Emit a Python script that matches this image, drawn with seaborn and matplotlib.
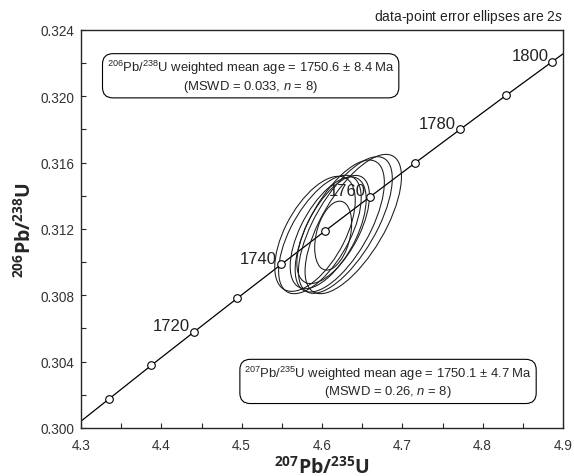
import numpy as np
import pandas as pd
import matplotlib
matplotlib.use("Agg")
import matplotlib.pyplot as plt
from matplotlib.patches import Ellipse
from matplotlib.ticker import MultipleLocator, FormatStrFormatter
import seaborn as sns

# ---- data ----
conc_age = [1690, 1700, 1710, 1720, 1730, 1740, 1750, 1760, 1770, 1780, 1790, 1800, 1810]
conc_x = [4.2825, 4.3348, 4.3876, 4.4409, 4.4947, 4.5491, 4.6040, 4.6595, 4.7155, 4.7721, 4.8292, 4.8869, 4.9452]
conc_y = [0.29974, 0.30175, 0.30378, 0.30580, 0.30783, 0.30986, 0.31189, 0.31393, 0.31597, 0.31801, 0.32006, 0.32210, 0.32415]
label_ages = [1720, 1740, 1760, 1780, 1800]

ell_x = [4.6139, 4.5913, 4.5974, 4.6077, 4.6139, 4.6221, 4.6291, 4.6389]
ell_y = [0.31160, 0.31171, 0.31167, 0.31177, 0.31197, 0.31218, 0.31224, 0.31230]
ell_sx = [0.0230, 0.0501, 0.0514, 0.0473, 0.0452, 0.0555, 0.0584, 0.0600]
ell_sy = [0.00208, 0.00347, 0.00357, 0.00337, 0.00326, 0.00398, 0.00412, 0.00420]
ell_rho = [0.35, 0.58, 0.62, 0.60, 0.62, 0.66, 0.68, 0.68]

box1_text = "$^{206}$Pb/$^{238}$U weighted mean age = 1750.6 \u00b1 8.4 Ma\n(MSWD = 0.033, $n$ = 8)"
box2_text = "$^{207}$Pb/$^{235}$U weighted mean age = 1750.1 \u00b1 4.7 Ma\n(MSWD = 0.26, $n$ = 8)"
note_text = "data-point error ellipses are 2$s$"
xlabel = r"$\mathbf{{}^{207}Pb/{}^{235}U}$"
ylabel = r"$\mathbf{{}^{206}Pb/{}^{238}U}$"

# ---- style ----
sns.set_style("ticks")
plt.rcParams["font.family"] = ["Liberation Sans", "DejaVu Sans"]
plt.rcParams["mathtext.fontset"] = "custom"
plt.rcParams["mathtext.rm"] = "Liberation Sans"
plt.rcParams["mathtext.it"] = "Liberation Sans:italic"
plt.rcParams["mathtext.bf"] = "Open Sans:bold"

fig = plt.figure(figsize=(5.74, 4.77), dpi=100)
ax = fig.add_axes([81/574, 48/477, 482/574, 398/477])

conc = pd.DataFrame({"age": conc_age, "x": conc_x, "y": conc_y})
sns.lineplot(data=conc, x="x", y="y", sort=False, estimator=None,
             color="black", lw=0.9, ax=ax, zorder=2)

# error ellipses
for cx, cy, sx, sy, r in zip(ell_x, ell_y, ell_sx, ell_sy, ell_rho):
    cov = np.array([[sx**2, r*sx*sy], [r*sx*sy, sy**2]])
    vals, vecs = np.linalg.eigh(cov)
    ang = np.degrees(np.arctan2(vecs[1, 1], vecs[0, 1]))
    e = Ellipse((cx, cy), 2*np.sqrt(vals[1]), 2*np.sqrt(vals[0]), angle=ang,
                fill=False, ec="#1a1a1a", lw=0.75, zorder=3)
    ax.add_patch(e)

mk = conc[(conc.age >= 1700) & (conc.age <= 1800)]
sns.scatterplot(data=mk, x="x", y="y", marker="o", s=30, facecolor="white",
                edgecolor="black", linewidth=0.8, ax=ax, zorder=4)

for a in label_ages:
    row = conc[conc.age == a].iloc[0]
    ax.annotate(str(a), (row.x, row.y), xytext=(-3, -1), textcoords="offset points",
                ha="right", va="bottom", fontsize=12, color="#222222", zorder=5)

ax.set_xlim(4.3, 4.9)
ax.set_ylim(0.300, 0.324)
ax.xaxis.set_major_locator(MultipleLocator(0.1))
ax.xaxis.set_minor_locator(MultipleLocator(0.05))
ax.yaxis.set_major_locator(MultipleLocator(0.004))
ax.yaxis.set_minor_locator(MultipleLocator(0.002))
ax.xaxis.set_major_formatter(FormatStrFormatter("%.1f"))
ax.yaxis.set_major_formatter(FormatStrFormatter("%.3f"))
ax.tick_params(which="both", direction="in", length=3.5, width=0.8,
               top=False, right=False, labelsize=9.8, labelcolor="#333333")
ax.tick_params(axis="x", pad=7)
ax.tick_params(axis="y", pad=5)
for s in ax.spines.values():
    s.set_linewidth(1.0)
    s.set_visible(True)

ax.set_xlabel(xlabel, fontsize=14, labelpad=2)
ax.set_ylabel(ylabel, fontsize=14, labelpad=4)

bb = dict(boxstyle="round,pad=0.32,rounding_size=0.8", fc="white", ec="black", lw=0.8)
ax.text(0.352, 0.885, box1_text, transform=ax.transAxes, ha="center", va="center",
        multialignment="center", fontsize=9.4, linespacing=1.15, bbox=bb, zorder=6)
ax.text(0.637, 0.117, box2_text, transform=ax.transAxes, ha="center", va="center",
        multialignment="center", fontsize=9.4, linespacing=1.15, bbox=bb, zorder=6)
ax.text(1.0, 1.012, note_text, transform=ax.transAxes, ha="right", va="bottom",
        fontsize=10, color="#222222")

fig.savefig("out.png", dpi=100)
